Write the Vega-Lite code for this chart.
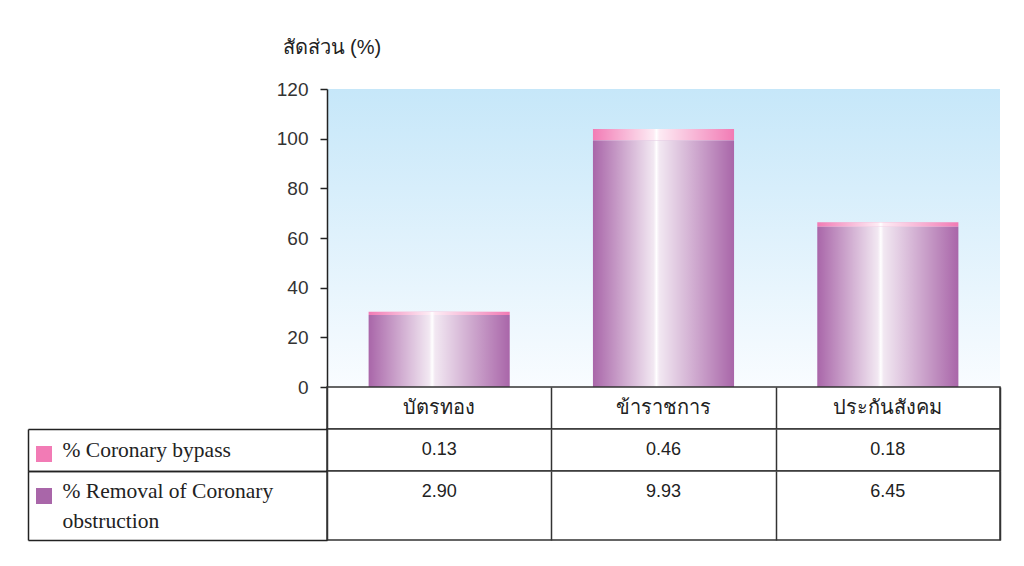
{
  "$schema": "https://vega.github.io/schema/vega-lite/v6.json",
  "padding": {"left": 26, "top": 37, "right": 10, "bottom": 10},
  "autosize": {"type": "pad"},
  "background": "white",
  "spacing": 0,
  "bounds": "flush",
  "config": {
    "font": "Liberation Sans",
    "view": {"stroke": null},
    "axis": {"domainColor": "#222", "tickColor": "#222", "labelColor": "#222", "titleColor": "#222"}
  },
  "datasets": {
    "rows": [
      {"category": "บัตรทอง", "series": "% Coronary bypass", "value": 0.13},
      {"category": "บัตรทอง", "series": "% Removal of Coronary obstruction", "value": 2.90},
      {"category": "ข้าราชการ", "series": "% Coronary bypass", "value": 0.46},
      {"category": "ข้าราชการ", "series": "% Removal of Coronary obstruction", "value": 9.93},
      {"category": "ประกันสังคม", "series": "% Coronary bypass", "value": 0.18},
      {"category": "ประกันสังคม", "series": "% Removal of Coronary obstruction", "value": 6.45}
    ]
  },
  "vconcat": [
    {
      "width": 673,
      "height": 298,
      "view": {
        "stroke": null,
        "fill": {"gradient": "linear", "x1": 0, "y1": 0, "x2": 0, "y2": 1,
          "stops": [{"offset": 0, "color": "#c6e7f9"}, {"offset": 1, "color": "#f9fcff"}]}
      },
      "data": {"name": "rows"},
      "encoding": {
        "x": {"field": "category", "type": "nominal", "sort": ["บัตรทอง", "ข้าราชการ", "ประกันสังคม"],
          "scale": {"paddingInner": 0, "paddingOuter": 0}, "axis": null},
        "y": {"field": "value", "type": "quantitative", "scale": {"domain": [0, 12], "nice": false},
          "axis": {"values": [0, 2, 4, 6, 8, 10, 12], "labelExpr": "format(datum.value * 10, 'd')", "grid": false,
            "tickSize": 7, "tickWidth": 1.5, "domainWidth": 1.5, "labelFontSize": 19, "labelPadding": 12,
            "labelColor": "#333",
            "title": "สัดส่วน (%)", "titleAngle": 0, "titleAlign": "left", "titleBaseline": "middle",
            "titleX": -45, "titleY": -42, "titleFontSize": 20, "titleFontWeight": "normal"}},
        "order": {"field": "series", "sort": "descending"}
      },
      "layer": [
        {
          "mark": {"type": "bar", "width": {"band": 0.629}},
          "encoding": {
            "color": {"field": "series", "type": "nominal",
              "scale": {"domain": ["% Coronary bypass", "% Removal of Coronary obstruction"], "range": ["#f27bb5", "#a966a9"]},
              "legend": {"orient": "none", "legendX": -291, "legendY": 357, "title": null, "symbolType": "square",
                "symbolSize": 256, "symbolStrokeWidth": 0, "symbolOpacity": 1, "labelExpr": "''", "labelFontSize": 1,
                "rowPadding": 26, "padding": 0}}
          }
        },
        {
          "mark": {"type": "bar", "width": {"band": 0.629},
            "fill": {"gradient": "linear", "x1": 0, "y1": 0, "x2": 1, "y2": 0,
              "stops": [
                {"offset": 0, "color": "rgba(255,255,255,0)"},
                {"offset": 0.43, "color": "rgba(255,255,255,0.85)"},
                {"offset": 0.45, "color": "rgba(255,255,255,1)"},
                {"offset": 0.47, "color": "rgba(255,255,255,0.85)"},
                {"offset": 1, "color": "rgba(255,255,255,0)"}
              ]}},
          "encoding": {"detail": {"field": "series", "type": "nominal"}}
        }
      ]
    },
    {
      "width": 673,
      "height": 42,
      "view": {"stroke": "#333", "strokeWidth": 1.5, "fill": "white"},
      "data": {"name": "rows"},
      "transform": [{"filter": "datum.series == '% Coronary bypass'"}],
      "mark": {"type": "text", "fontSize": 20, "color": "#222"},
      "encoding": {
        "x": {"field": "category", "type": "nominal", "sort": ["บัตรทอง", "ข้าราชการ", "ประกันสังคม"],
          "scale": {"paddingInner": 0, "paddingOuter": 0},
          "axis": {"title": null, "grid": true, "tickBand": "extent", "labels": false, "ticks": false, "domain": false,
            "gridColor": "#333", "gridWidth": 1.5, "gridOpacity": 1}},
        "text": {"field": "category", "type": "nominal"}
      }
    },
    {
      "width": 673,
      "height": 42,
      "view": {"stroke": "#333", "strokeWidth": 1.5, "fill": "white"},
      "data": {"name": "rows"},
      "transform": [{"filter": "datum.series == '% Coronary bypass'"}],
      "mark": {"type": "text", "fontSize": 18, "color": "#222"},
      "encoding": {
        "x": {"field": "category", "type": "nominal", "sort": ["บัตรทอง", "ข้าราชการ", "ประกันสังคม"],
          "scale": {"paddingInner": 0, "paddingOuter": 0},
          "axis": {"title": null, "grid": true, "tickBand": "extent", "labels": false, "ticks": false, "domain": false,
            "gridColor": "#333", "gridWidth": 1.5, "gridOpacity": 1}},
        "y": {"field": "series", "type": "nominal", "scale": {"paddingInner": 0, "paddingOuter": 0},
          "axis": {"title": null, "offset": 299, "tickBand": "extent", "tickSize": -299, "tickWidth": 1.5,
            "domainWidth": 1.5, "labelAlign": "left", "labelPadding": 265, "labelFont": "Liberation Serif",
            "labelFontSize": 21.5, "labelLimit": 400, "labelColor": "#222"}},
        "text": {"field": "value", "type": "quantitative", "format": ".2f"}
      }
    },
    {
      "width": 673,
      "height": 69,
      "view": {"stroke": "#333", "strokeWidth": 1.5, "fill": "white"},
      "data": {"name": "rows"},
      "transform": [{"filter": "datum.series == '% Removal of Coronary obstruction'"}],
      "mark": {"type": "text", "fontSize": 18, "color": "#222", "dy": -14},
      "encoding": {
        "x": {"field": "category", "type": "nominal", "sort": ["บัตรทอง", "ข้าราชการ", "ประกันสังคม"],
          "scale": {"paddingInner": 0, "paddingOuter": 0},
          "axis": {"title": null, "grid": true, "tickBand": "extent", "labels": false, "ticks": false, "domain": false,
            "gridColor": "#333", "gridWidth": 1.5, "gridOpacity": 1}},
        "y": {"field": "series", "type": "nominal", "scale": {"paddingInner": 0, "paddingOuter": 0},
          "axis": {"title": null, "offset": 299, "tickBand": "extent", "tickSize": -299, "tickWidth": 1.5,
            "domainWidth": 1.5, "labelAlign": "left", "labelPadding": 265, "labelFont": "Liberation Serif",
            "labelFontSize": 21.5, "labelLimit": 400, "labelColor": "#222", "labelLineHeight": 30, "labelOffset": -14,
            "labelExpr": "datum.value == '% Removal of Coronary obstruction' ? ['% Removal of Coronary', 'obstruction'] : datum.label"}},
        "text": {"field": "value", "type": "quantitative", "format": ".2f"}
      }
    }
  ]
}
